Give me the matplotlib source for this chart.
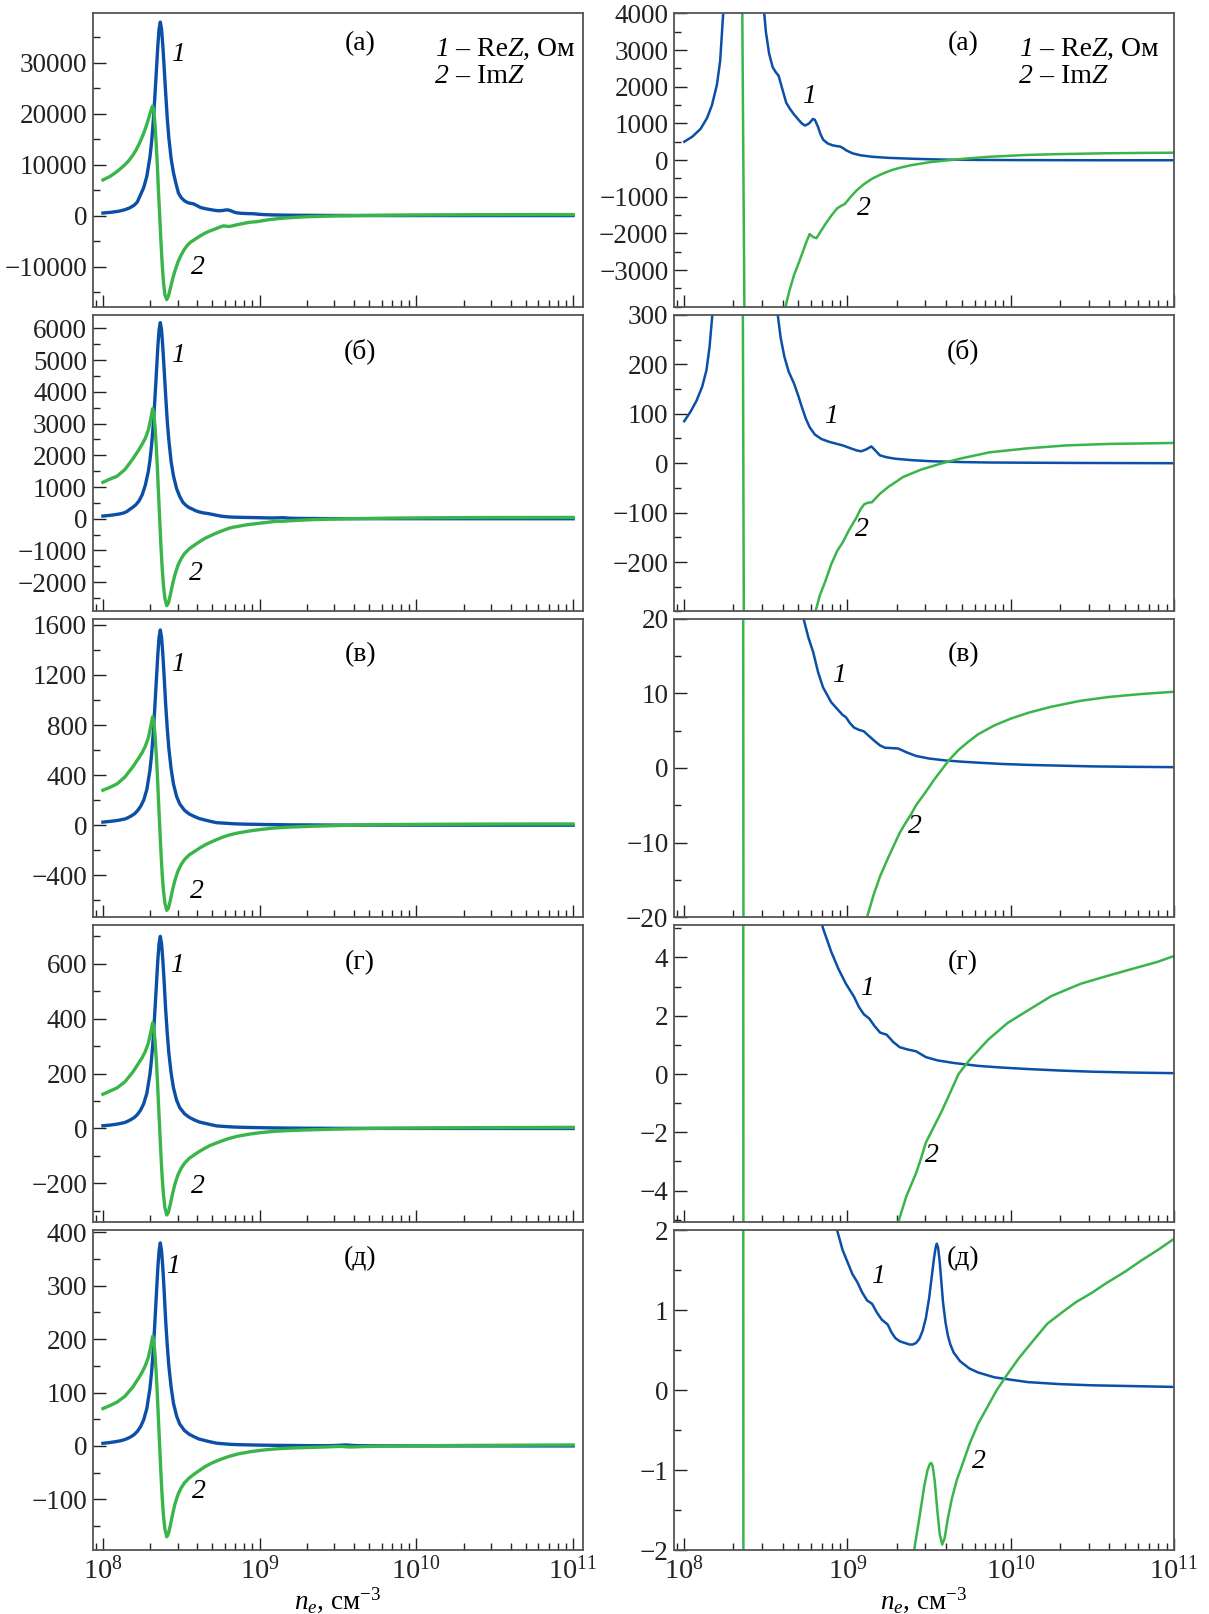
import numpy as np
import matplotlib
matplotlib.use("Agg")
import matplotlib.pyplot as plt
from matplotlib.ticker import FixedLocator, AutoMinorLocator, LogLocator
from matplotlib.offsetbox import TextArea, HPacker, AnnotationBbox

plt.rcParams['font.family'] = 'Liberation Serif'
plt.rcParams['mathtext.fontset'] = 'custom'
plt.rcParams['mathtext.rm'] = 'Liberation Serif'
plt.rcParams['mathtext.it'] = 'Liberation Serif:italic'

BLUE = '#0b50a6'
GREEN = '#3ab54a'

# ---- data: lg(n_e), ReZ and ImZ for the five cases (а)-(д) ----
lg_re1 = [8.00, 8.05, 8.10, 8.14, 8.17, 8.20, 8.22, 8.24, 8.26, 8.28, 8.30, 8.31, 8.32, 8.33, 8.34,
          8.35, 8.358, 8.366, 8.374, 8.382, 8.39, 8.40, 8.41, 8.42, 8.435, 8.45, 8.465, 8.482, 8.50,
          8.52, 8.542, 8.56, 8.578, 8.60, 8.625, 8.65, 8.673, 8.70, 8.72, 8.74, 8.765, 8.788, 8.80,
          8.82, 8.835, 8.852, 8.88, 8.91, 8.935, 8.955, 8.975, 8.99, 9.03, 9.08, 9.15, 9.25, 9.39,
          9.5, 9.63, 9.8, 10.0, 10.5, 11.0]
re1 = [500, 640, 850, 1150, 1500, 2050, 2700, 4100, 5500, 7700, 11500, 14300, 18100, 22700, 27900,
       33200, 36600, 38000, 36600, 33400, 29400, 24200, 19300, 15400, 11200, 8400, 6400, 4400, 3500,
       2900, 2530, 2400, 2300, 1950, 1560, 1380, 1240, 1100, 1000, 940, 1000, 1120, 1100,
       900, 700, 550, 450, 400, 380, 370, 320, 270, 185, 130, 90, 60, 37,
       22, 10, 4, 0, -5, -5]
lg_im1 = [8.00, 8.04, 8.07, 8.10, 8.13, 8.16, 8.19, 8.21, 8.23, 8.25, 8.27, 8.285, 8.30, 8.31, 8.317,
          8.325, 8.333, 8.34, 8.347, 8.354, 8.362, 8.37, 8.378, 8.386, 8.395, 8.407, 8.418, 8.43,
          8.445, 8.46, 8.48, 8.50, 8.52, 8.54, 8.56, 8.59, 8.62, 8.645, 8.673, 8.70, 8.72, 8.745,
          8.768, 8.79, 8.81, 8.835, 8.864, 8.90, 8.936, 8.96, 8.983, 9.02, 9.055, 9.10, 9.15, 9.21,
          9.27, 9.33, 9.39, 9.5, 9.63, 9.75, 9.87, 10.0, 10.1, 10.3, 10.58, 10.8, 11.0]
im1 = [7000, 7600, 8200, 8900, 9700, 10600, 11800, 12800, 14000, 15400, 17000, 18400, 20000, 21000, 21500,
       20500, 17500, 14000, 10000, 5000, 0, -5000, -9500, -13000, -15500, -16500, -15800, -14300,
       -12400, -10800, -9000, -7700, -6600, -5800, -5200, -4600, -4000, -3550, -3130, -2820, -2580, -2270,
       -2020, -2100, -2130, -1950, -1750, -1520, -1320, -1250, -1200, -1000, -830, -660, -510, -380,
       -275, -200, -140, -60, 0, 50, 90, 118, 140, 163, 185, 195, 200]

lg_re2 = [8.00, 8.04, 8.076, 8.11, 8.136, 8.155, 8.172, 8.19, 8.21, 8.23, 8.25, 8.27, 8.29, 8.30, 8.31,
          8.32, 8.33, 8.34, 8.35, 8.358, 8.366, 8.374, 8.382, 8.39, 8.40, 8.41, 8.42, 8.435, 8.45,
          8.47, 8.49, 8.51, 8.53, 8.55, 8.573, 8.59, 8.613, 8.64, 8.673, 8.70, 8.72, 8.745, 8.768,
          8.80, 8.84, 8.89, 8.936, 8.971, 9.02, 9.055, 9.083, 9.115, 9.146, 9.17, 9.198, 9.24, 9.294,
          9.4, 9.51, 9.7, 9.87, 10.4, 11.0]
re2 = [85, 105, 127, 155, 188, 235, 300, 360, 440, 560, 750, 1050, 1500, 1850, 2300,
       2900, 3650, 4500, 5400, 5950, 6180, 5950, 5400, 4750, 3900, 3100, 2500, 1800, 1350,
       950, 700, 520, 420, 350, 300, 255, 216, 185, 161, 135, 114, 90, 73,
       58, 49, 43, 39, 36, 30, 26, 24, 28, 34, 26, 16, 12, 9,
       6, 4, 2.3, 1.4, 0.5, 0]
lg_im2 = [8.00, 8.04, 8.09, 8.14, 8.19, 8.23, 8.25, 8.27, 8.29, 8.305, 8.317, 8.325, 8.333, 8.34, 8.347,
          8.354, 8.362, 8.37, 8.378, 8.386, 8.395, 8.407, 8.418, 8.43, 8.445, 8.46, 8.48, 8.50, 8.52,
          8.55, 8.59, 8.62, 8.65, 8.68, 8.71, 8.76, 8.804, 8.83, 8.864, 8.90, 8.936, 8.971, 9.01,
          9.055, 9.08, 9.103, 9.125, 9.15, 9.175, 9.198, 9.25, 9.30, 9.34, 9.45, 9.58, 9.7, 9.87,
          10.1, 10.34, 10.6, 11.0]
im2 = [1150, 1240, 1340, 1550, 1880, 2180, 2350, 2530, 2800, 3150, 3470, 3300, 2850, 2300, 1650,
       850, 0, -850, -1550, -2100, -2500, -2740, -2650, -2400, -2050, -1750, -1450, -1250, -1100,
       -950, -810, -710, -620, -550, -480, -380, -300, -268, -239, -205, -178, -160, -135,
       -110, -93, -83, -80, -79, -70, -62, -48, -37, -28, -13, 0, 10, 22,
       30, 36, 39, 41]

lg_re3 = [8.00, 8.04, 8.08, 8.11, 8.14, 8.16, 8.18, 8.20, 8.22, 8.24, 8.26, 8.28, 8.30, 8.31, 8.32,
          8.33, 8.34, 8.35, 8.358, 8.366, 8.374, 8.382, 8.39, 8.40, 8.41, 8.42, 8.435, 8.45, 8.47,
          8.49, 8.52, 8.55, 8.58, 8.613, 8.65, 8.673, 8.70, 8.725, 8.76, 8.79, 8.82, 8.85, 8.90,
          8.945, 8.97, 8.99, 9.015, 9.04, 9.07, 9.10, 9.13, 9.166, 9.2, 9.23, 9.27, 9.31, 9.36,
          9.42, 9.5, 9.6, 9.7, 9.80, 9.95, 10.11, 10.3, 10.5, 10.75, 11.0]
re3 = [25, 30, 36, 42, 50, 60, 74, 90, 115, 150, 200, 285, 440, 560, 720,
       920, 1140, 1360, 1500, 1560, 1500, 1370, 1200, 970, 780, 620, 450, 330, 230,
       170, 120, 90, 72, 54, 42, 35, 27, 20.5, 17.5, 15.5, 12.8, 10.8, 8.8,
       7.7, 7.1, 6.8, 6.0, 5.4, 5.1, 4.9, 4.3, 3.6, 3.0, 2.7, 2.65, 2.6, 2.1,
       1.6, 1.25, 1.0, 0.83, 0.7, 0.52, 0.4, 0.3, 0.2, 0.14, 0.1]
lg_im3 = [8.00, 8.04, 8.09, 8.14, 8.19, 8.23, 8.25, 8.27, 8.29, 8.305, 8.317, 8.325, 8.333, 8.34, 8.347,
          8.354, 8.362, 8.37, 8.378, 8.386, 8.395, 8.407, 8.418, 8.43, 8.445, 8.46, 8.48, 8.50, 8.52,
          8.55, 8.59, 8.62, 8.65, 8.68, 8.71, 8.76, 8.80, 8.86, 8.94, 9.0, 9.06, 9.12, 9.16,
          9.2, 9.25, 9.29, 9.32, 9.355, 9.39, 9.42, 9.45, 9.48, 9.53, 9.575, 9.62, 9.68, 9.74,
          9.80, 9.9, 10.0, 10.11, 10.25, 10.43, 10.6, 10.8, 11.0]
im3 = [280, 300, 330, 385, 465, 540, 580, 630, 700, 790, 866, 820, 710, 570, 410,
       210, 0, -210, -390, -520, -620, -680, -662, -600, -512, -437, -362, -312, -275,
       -237, -205, -180, -158, -140, -123, -97, -80, -62, -45, -35, -26, -20, -17,
       -14.5, -12, -10.1, -8.7, -7.4, -6.2, -5.0, -4.1, -3.2, -1.6, -0.3, 1.0, 2.4, 3.5,
       4.5, 5.7, 6.6, 7.4, 8.2, 9.0, 9.5, 9.9, 10.2]

lg_re4 = [8.00, 8.04, 8.08, 8.11, 8.14, 8.16, 8.18, 8.20, 8.22, 8.24, 8.26, 8.28, 8.30, 8.31, 8.32,
          8.33, 8.34, 8.35, 8.358, 8.366, 8.374, 8.382, 8.39, 8.40, 8.41, 8.42, 8.435, 8.45, 8.47,
          8.49, 8.52, 8.55, 8.58, 8.613, 8.65, 8.673, 8.70, 8.725, 8.76, 8.79, 8.82, 8.85, 8.90,
          8.945, 8.99, 9.04, 9.07, 9.10, 9.134, 9.165, 9.20, 9.24, 9.28, 9.32, 9.37, 9.42, 9.48,
          9.55, 9.65, 9.80, 9.95, 10.11, 10.3, 10.5, 10.75, 11.0]
re4 = [10, 12, 15, 18, 22, 27, 33, 40, 51, 67, 90, 128, 198, 252, 323,
       413, 512, 612, 673, 700, 673, 615, 540, 435, 350, 278, 202, 148, 103,
       76, 54, 41, 32, 24, 19, 16, 12.5, 9.5, 8, 6.9, 5.8, 5.0, 4.2,
       3.6, 3.1, 2.65, 2.3, 2.05, 1.9, 1.65, 1.42, 1.35, 1.1, 0.92, 0.84, 0.78, 0.58,
       0.47, 0.38, 0.28, 0.22, 0.17, 0.12, 0.08, 0.05, 0.03]
lg_im4 = [8.00, 8.04, 8.09, 8.14, 8.19, 8.23, 8.25, 8.27, 8.29, 8.305, 8.317, 8.325, 8.333, 8.34, 8.347,
          8.354, 8.362, 8.37, 8.378, 8.386, 8.395, 8.407, 8.418, 8.43, 8.445, 8.46, 8.48, 8.50, 8.52,
          8.55, 8.59, 8.62, 8.65, 8.68, 8.71, 8.76, 8.80, 8.86, 8.94, 9.0, 9.06, 9.12, 9.16,
          9.2, 9.25, 9.31, 9.36, 9.42, 9.45, 9.48, 9.53, 9.575, 9.62, 9.68, 9.75, 9.86, 9.98,
          10.11, 10.25, 10.43, 10.6, 10.74, 10.9, 11.0]
im4 = [125, 135, 148, 170, 205, 240, 258, 280, 312, 350, 385, 365, 315, 255, 182,
       94, 0, -95, -178, -240, -287, -315, -305, -276, -236, -201, -167, -144, -127,
       -109, -93, -82, -72, -63, -56, -45, -37, -28, -20, -15.5, -12, -9.5, -8.3,
       -7.3, -6.2, -5.1, -4.2, -3.4, -2.9, -2.35, -1.8, -1.3, -0.75, 0, 0.5, 1.17, 1.75,
       2.2, 2.68, 3.1, 3.38, 3.6, 3.85, 4.05]

lg_re5 = [8.00, 8.04, 8.08, 8.11, 8.14, 8.16, 8.18, 8.20, 8.22, 8.24, 8.26, 8.28, 8.30, 8.31, 8.32,
          8.33, 8.34, 8.35, 8.358, 8.366, 8.374, 8.382, 8.39, 8.40, 8.41, 8.42, 8.435, 8.45, 8.47,
          8.49, 8.52, 8.55, 8.58, 8.613, 8.65, 8.673, 8.70, 8.725, 8.76, 8.79, 8.82, 8.85, 8.90,
          8.936, 8.97, 9.0, 9.03, 9.06, 9.09, 9.12, 9.15, 9.18, 9.21, 9.246, 9.27, 9.293, 9.32,
          9.35, 9.38, 9.40, 9.42, 9.44, 9.46, 9.48, 9.50, 9.515, 9.53, 9.54, 9.547, 9.555, 9.565,
          9.575, 9.585, 9.60, 9.615, 9.63, 9.65, 9.69, 9.747, 9.8, 9.9, 10.0, 10.105, 10.3, 10.5,
          10.75, 11.0]
re5 = [5, 6.3, 8, 9.6, 12, 14.5, 17.5, 21.5, 27.5, 36, 49, 70, 108, 137, 175,
       224, 278, 332, 365, 380, 365, 334, 293, 236, 190, 151, 110, 80, 56,
       41, 29, 22, 17.4, 13, 10.2, 8.5, 6.8, 5.2, 4.3, 3.6, 3.0, 2.6, 2.2,
       2.0, 1.75, 1.6, 1.45, 1.35, 1.22, 1.12, 1.08, 0.97, 0.88, 0.82, 0.72, 0.65, 0.61,
       0.59, 0.57, 0.57, 0.59, 0.64, 0.74, 0.9, 1.15, 1.4, 1.65, 1.78, 1.83, 1.78, 1.6,
       1.35, 1.1, 0.85, 0.68, 0.57, 0.47, 0.36, 0.27, 0.22, 0.16, 0.13, 0.10, 0.075, 0.06,
       0.05, 0.04]
lg_im5 = [8.00, 8.04, 8.09, 8.14, 8.19, 8.23, 8.25, 8.27, 8.29, 8.305, 8.317, 8.325, 8.333, 8.34, 8.347,
          8.354, 8.362, 8.37, 8.378, 8.386, 8.395, 8.407, 8.418, 8.43, 8.445, 8.46, 8.48, 8.50, 8.52,
          8.55, 8.59, 8.62, 8.65, 8.68, 8.71, 8.76, 8.80, 8.86, 8.94, 9.0, 9.06, 9.12, 9.2,
          9.3, 9.36, 9.408, 9.44, 9.47, 9.49, 9.505, 9.513, 9.522, 9.535, 9.55, 9.565, 9.58, 9.595,
          9.615, 9.64, 9.67, 9.70, 9.75, 9.80, 9.86, 9.914, 9.98, 10.05, 10.13, 10.224, 10.32, 10.4,
          10.5, 10.58, 10.7, 10.8, 10.9, 11.0]
im5 = [70, 75, 82, 93, 110, 128, 138, 150, 166, 186, 205, 195, 168, 136, 97,
       50, 0, -51, -96, -130, -155, -170, -164, -149, -127, -108, -90, -78, -69,
       -60, -51, -45, -39, -34, -30, -24, -20, -15, -10.8, -8.4, -6.5, -5.1, -3.9,
       -2.9, -2.4, -2.0, -1.6, -1.2, -1.0, -0.92, -0.91, -0.95, -1.15, -1.5, -1.8, -1.93, -1.85,
       -1.6, -1.35, -1.12, -0.95, -0.66, -0.42, -0.2, 0, 0.2, 0.4, 0.6, 0.83, 0.98, 1.1,
       1.22, 1.33, 1.48, 1.62, 1.75, 1.89]

panel_tags = ['(а)', '(б)', '(в)', '(г)', '(д)']
left_ylim = [(-17900, 39700), (-2920, 6420), (-734, 1650), (-340, 740), (-195, 404)]
left_yticks = [[-10000, 0, 10000, 20000, 30000],
               [-2000, -1000, 0, 1000, 2000, 3000, 4000, 5000, 6000],
               [-400, 0, 400, 800, 1200, 1600],
               [-200, 0, 200, 400, 600],
               [-100, 0, 100, 200, 300, 400]]
right_ylim = [(-4000, 4000), (-300, 300), (-20, 20), (-5.07, 5.1), (-2, 2)]
right_yticks = [[-3000, -2000, -1000, 0, 1000, 2000, 3000, 4000],
                [-200, -100, 0, 100, 200, 300],
                [-20, -10, 0, 10, 20],
                [-4, -2, 0, 2, 4],
                [-2, -1, 0, 1, 2]]

series = [(lg_re1, re1, lg_im1, im1), (lg_re2, re2, lg_im2, im2), (lg_re3, re3, lg_im3, im3),
          (lg_re4, re4, lg_im4, im4), (lg_re5, re5, lg_im5, im5)]

# layout measured on a 1175 x 1568 copy of the page
W, H = 1175.0, 1568.0
row_px = [(13, 298), (306, 594), (601, 891), (899, 1187), (1195, 1506)]
col_px = [(90, 567), (655, 1141)]
xlims = [(10 ** 7.934, 10 ** 11.066), (10 ** 7.937, 10 ** 11.0)]


def fpos(x, y):
    return x / W, 1 - y / H


fig = plt.figure(figsize=(12.09, 16.14), dpi=100)

for r in range(5):
    lgr, re, lgi, im = series[r]
    for c in range(2):
        x0, x1 = col_px[c]
        y0, y1 = row_px[r]
        ax = fig.add_axes([x0 / W, 1 - y1 / H, (x1 - x0) / W, (y1 - y0) / H])
        lw = 2.4 if c == 0 else 1.8
        ax.plot(10 ** np.array(lgr), re, color=BLUE, lw=lw)
        ax.plot(10 ** np.array(lgi), im, color=GREEN, lw=lw)
        ax.set_xscale('log')
        ax.set_xlim(*xlims[c])
        ax.set_ylim(*(left_ylim[r] if c == 0 else right_ylim[r]))
        ax.yaxis.set_major_locator(FixedLocator(left_yticks[r] if c == 0 else right_yticks[r]))
        ax.yaxis.set_minor_locator(AutoMinorLocator(2))
        ax.xaxis.set_major_locator(LogLocator(base=10, numticks=10))
        ax.xaxis.set_minor_locator(LogLocator(base=10, subs=np.arange(2, 10), numticks=40))
        ax.tick_params(which='both', direction='in', top=False, right=False,
                       colors='#222222', width=1.0)
        ax.tick_params(axis='y', labelsize=19.5)
        ax.tick_params(axis='x', labelsize=20.5)
        ax.tick_params(which='major', length=9, pad=4)
        ax.tick_params(which='minor', length=5)
        for s in ax.spines.values():
            s.set_color('#555555')
            s.set_linewidth(1.3)
        if r < 4:
            ax.tick_params(labelbottom=False)
        else:
            ax.set_xlabel(r'$n_e$, см$^{-3}$', fontsize=19.5, labelpad=1)

# panel tags and curve numbers (positions in page pixels)
tag_xy = [[(350, 42), (936, 42)], [(350, 341), (936, 341)], [(350, 636), (936, 636)],
          [(350, 935), (936, 935)], [(350, 1223), (936, 1223)]]
one_xy = [[(173, 53), (786, 94)], [(173, 345), (808, 405)], [(173, 646), (815, 656)],
          [(172, 938), (843, 960)], [(168, 1230), (853, 1240)]]
two_xy = [[(192, 260), (840, 203)], [(190, 557), (838, 514)], [(191, 866), (889, 803)],
          [(192, 1153), (906, 1123)], [(193, 1449), (951, 1420)]]

for r in range(5):
    for c in range(2):
        fig.text(*fpos(*tag_xy[r][c]), panel_tags[r], fontsize=20, ha='center', va='center')
        fig.text(*fpos(*one_xy[r][c]), '1', fontsize=20, style='italic', ha='center', va='center')
        fig.text(*fpos(*two_xy[r][c]), '2', fontsize=20, style='italic', ha='center', va='center')


def legend_line(x, y, parts):
    kids = [TextArea(t, textprops=dict(fontsize=20, style='italic' if it else 'normal',
                                       family='Liberation Serif'))
            for t, it in parts]
    box = HPacker(children=kids, pad=0, sep=0, align='baseline')
    ab = AnnotationBbox(box, fpos(x, y), xycoords='figure fraction', box_alignment=(0, 0.5),
                        frameon=False, pad=0)
    fig.add_artist(ab)


for lx in (423, 990):
    legend_line(lx, 48, [('1', True), (' – Re', False), ('Z', True), (', Ом', False)])
    legend_line(lx, 74, [('2', True), (' – Im', False), ('Z', True)])

fig.savefig('out.png', dpi=100)
